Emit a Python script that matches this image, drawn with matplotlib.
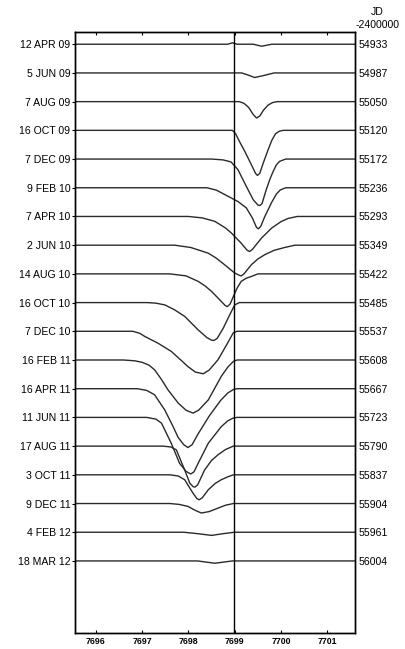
import matplotlib
matplotlib.use('agg')
import matplotlib.pyplot as plt

plt.rcParams['font.family'] = ['Liberation Sans', 'DejaVu Sans']

# observation dates (left) and JD-2400000 (right), top to bottom
dates = ['12 APR 09', '5 JUN 09', '7 AUG 09', '16 OCT 09', '7 DEC 09', '9 FEB 10',
         '7 APR 10', '2 JUN 10', '14 AUG 10', '16 OCT 10', '7 DEC 10', '16 FEB 11',
         '16 APR 11', '11 JUN 11', '17 AUG 11', '3 OCT 11', '9 DEC 11', '4 FEB 12',
         '18 MAR 12']
jd = ['54933', '54987', '55050', '55120', '55172', '55236', '55293', '55349', '55422',
      '55485', '55537', '55608', '55667', '55723', '55790', '55837', '55904', '55961',
      '56004']

# absorption profile of each spectrum: wavelength (A) and depth (in units of row spacing)
prof_wave = [
    [7698.85, 7698.95, 7699.05, 7699.4, 7699.58, 7699.8],
    [7699.15, 7699.3, 7699.43, 7699.6, 7699.85],
    [7699.1, 7699.2, 7699.3, 7699.4, 7699.47, 7699.54, 7699.62, 7699.72, 7699.82, 7699.92],
    [7698.95, 7699.02, 7699.1, 7699.22, 7699.36, 7699.45, 7699.49, 7699.54, 7699.62, 7699.72,
     7699.8, 7699.88, 7699.96, 7700.05],
    [7698.5, 7698.75, 7698.92, 7699.07, 7699.25, 7699.4, 7699.5, 7699.54, 7699.59, 7699.68,
     7699.76, 7699.83, 7699.9, 7699.97, 7700.1],
    [7698.4, 7698.6, 7698.86, 7699.07, 7699.25, 7699.38, 7699.47, 7699.51, 7699.56, 7699.65,
     7699.8, 7699.9, 7699.98, 7700.1],
    [7698.0, 7698.3, 7698.57, 7698.8, 7698.93, 7699.14, 7699.27, 7699.32, 7699.38, 7699.58,
     7699.8, 7700.0, 7700.15, 7700.35],
    [7697.7, 7698.05, 7698.43, 7698.6, 7698.78, 7699.0, 7699.1, 7699.14, 7699.2, 7699.36,
     7699.5, 7699.65, 7699.85, 7700.08, 7700.3],
    [7697.6, 7697.95, 7698.21, 7698.36, 7698.5, 7698.71, 7698.8, 7698.84, 7698.9, 7698.97,
     7699.05, 7699.14, 7699.25, 7699.36, 7699.5],
    [7697.1, 7697.3, 7697.49, 7697.7, 7697.92, 7698.21, 7698.4, 7698.5, 7698.55, 7698.62,
     7698.75, 7698.9, 7699.0, 7699.1],
    [7696.8, 7696.95, 7697.06, 7697.35, 7697.63, 7697.85, 7697.99, 7698.15, 7698.32, 7698.45,
     7698.64, 7698.85, 7698.97, 7699.05],
    [7696.6, 7696.85, 7697.0, 7697.15, 7697.27, 7697.42, 7697.56, 7697.78, 7697.95, 7698.1,
     7698.22, 7698.43, 7698.71, 7698.85, 7698.97, 7699.05],
    [7696.9, 7697.1, 7697.27, 7697.49, 7697.67, 7697.78, 7697.9, 7697.99, 7698.08, 7698.2,
     7698.45, 7698.7, 7698.85, 7698.97, 7699.05],
    [7697.1, 7697.3, 7697.42, 7697.63, 7697.81, 7697.95, 7698.05, 7698.12, 7698.21, 7698.43,
     7698.71, 7698.85, 7698.97, 7699.05],
    [7697.45, 7697.62, 7697.74, 7697.92, 7698.03, 7698.1, 7698.14, 7698.2, 7698.35, 7698.5,
     7698.64, 7698.8, 7698.97],
    [7697.6, 7697.78, 7697.92, 7698.1, 7698.18, 7698.23, 7698.3, 7698.43, 7698.58, 7698.71,
     7698.85, 7698.97],
    [7697.6, 7697.8, 7697.99, 7698.15, 7698.28, 7698.45, 7698.64, 7698.8, 7698.97],
    [7697.9, 7698.2, 7698.5, 7698.75, 7699.0],
    [7698.2, 7698.57, 7698.95],
]
prof_depth = [
    [0, -0.05, 0, 0, 0.07, 0],
    [0, 0.08, 0.16, 0.1, 0],
    [0, 0.06, 0.2, 0.45, 0.57, 0.5, 0.3, 0.12, 0.03, 0],
    [0, 0.12, 0.38, 0.74, 1.2, 1.5, 1.57, 1.5, 1.12, 0.68, 0.35, 0.12, 0.03, 0],
    [0, 0.03, 0.1, 0.37, 0.95, 1.42, 1.6, 1.62, 1.55, 1.07, 0.7, 0.43, 0.2, 0.08, 0],
    [0, 0.08, 0.3, 0.48, 0.7, 1.05, 1.38, 1.43, 1.35, 1.0, 0.5, 0.22, 0.08, 0],
    [0, 0.05, 0.17, 0.4, 0.58, 0.93, 1.18, 1.22, 1.15, 0.75, 0.4, 0.18, 0.07, 0],
    [0, 0.08, 0.28, 0.45, 0.68, 0.97, 1.05, 1.07, 1.0, 0.68, 0.48, 0.33, 0.18, 0.08, 0],
    [0, 0.07, 0.26, 0.42, 0.61, 0.96, 1.11, 1.14, 1.05, 0.79, 0.5, 0.26, 0.15, 0.09, 0],
    [0, 0.02, 0.08, 0.25, 0.48, 0.95, 1.22, 1.31, 1.32, 1.25, 0.9, 0.4, 0.08, 0],
    [0, 0.07, 0.18, 0.42, 0.7, 1.02, 1.23, 1.42, 1.48, 1.35, 0.99, 0.4, 0.05, 0],
    [0, 0.03, 0.08, 0.18, 0.34, 0.68, 1.04, 1.5, 1.75, 1.85, 1.75, 1.39, 0.57, 0.25, 0.05, 0],
    [0, 0.06, 0.21, 0.74, 1.32, 1.7, 1.95, 2.05, 1.95, 1.6, 0.95, 0.4, 0.15, 0.03, 0],
    [0, 0.06, 0.2, 0.9, 1.6, 1.88, 1.97, 1.9, 1.6, 0.9, 0.32, 0.12, 0.02, 0],
    [0, 0.03, 0.13, 0.83, 1.29, 1.41, 1.43, 1.35, 0.83, 0.5, 0.3, 0.12, 0],
    [0, 0.04, 0.17, 0.64, 0.82, 0.87, 0.8, 0.52, 0.3, 0.17, 0.07, 0],
    [0, 0.03, 0.1, 0.24, 0.33, 0.28, 0.16, 0.06, 0],
    [0, 0.05, 0.11, 0.05, 0],
    [0, 0.08, 0],
]
wave_lo, wave_hi = 7695.56, 7701.6
rest_wave = 7698.98
xticks = [7696, 7697, 7698, 7699, 7700, 7701]

fig = plt.figure(figsize=(4.05, 6.49), dpi=100)
ax = fig.add_axes([0.186, 0.0251, 0.691, 0.926])

n = len(dates)
for i in range(n):
    x = [wave_lo] + prof_wave[i] + [wave_hi]
    y = [-i] + [-i - d for d in prof_depth[i]] + [-i]
    ax.plot(x, y, color='#2a2a2a', lw=1.0, solid_joinstyle='round')

ax.axvline(rest_wave, color='black', lw=1.0)

ax.set_xlim(wave_lo, wave_hi)
ax.set_ylim(-n + 1 - 2.5, 0.435)
ax.set_xticks(xticks)
ax.set_xticklabels([str(t) for t in xticks], fontsize=6.3, fontweight='bold')
ax.tick_params(axis='x', direction='in', top=True, length=2.5, width=0.8, pad=3)

rows = [-i for i in range(n)]
ax.set_yticks(rows)
ax.set_yticklabels(dates, fontsize=7.6)
ax.tick_params(axis='y', direction='out', length=2.5, width=0.8, pad=1)

ax2 = ax.twinx()
ax2.set_ylim(ax.get_ylim())
ax2.set_yticks(rows)
ax2.set_yticklabels(jd, fontsize=7.6)
ax2.tick_params(axis='y', length=0, pad=2.5)

for a in (ax, ax2):
    for s in a.spines.values():
        s.set_linewidth(1.0)

fig.text(0.932, 0.981, 'JD', ha='center', va='center', fontsize=7.6)
fig.text(0.932, 0.962, '-2400000', ha='center', va='center', fontsize=7.6)

fig.savefig('out.png', dpi=100)
